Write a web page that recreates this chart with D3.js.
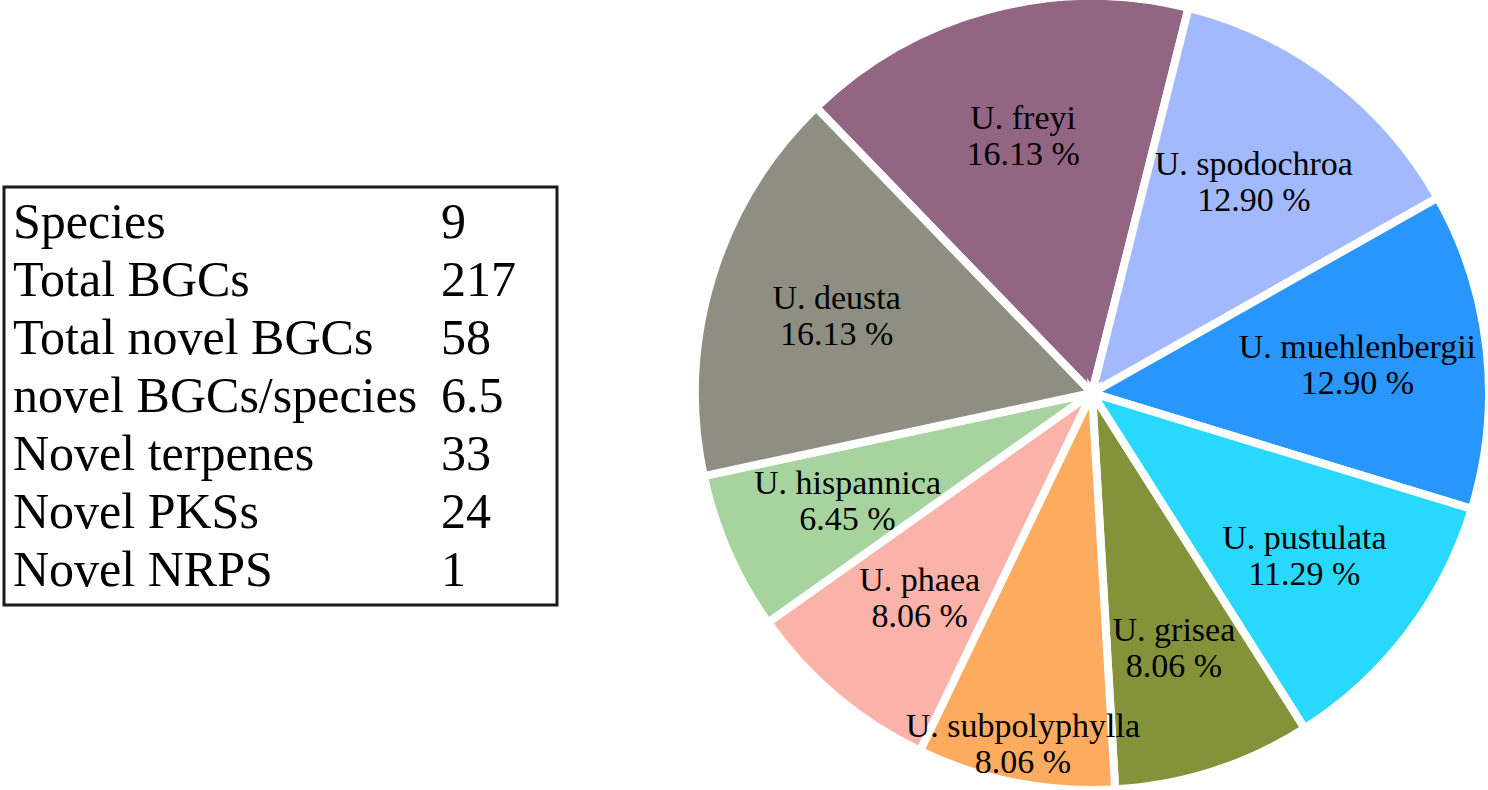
<!DOCTYPE html>
<html>
<head>
<meta charset="utf-8">
<script src="https://cdn.jsdelivr.net/npm/d3@7"></script>
<style>
  body { margin: 0; background: #fff; }
  svg { display: block; }
</style>
</head>
<body>
<svg id="chart"></svg>
<script>
// summary table
const statLabels = ["Species", "Total BGCs", "Total novel BGCs", "novel BGCs/species",
                    "Novel terpenes", "Novel PKSs", "Novel NRPS"];
const statValues = ["9", "217", "58", "6.5", "33", "24", "1"];

// pie slices, clockwise from the top-left
const species = ["U. freyi", "U. spodochroa", "U. muehlenbergii", "U. pustulata", "U. grisea",
                 "U. subpolyphylla", "U. phaea", "U. hispannica", "U. deusta"];
const shares = [16.13, 12.90, 12.90, 11.29, 8.06, 8.06, 8.06, 6.45, 16.13];
const sliceColors = ["#926583", "#a2b9fd", "#2896fd", "#29d9fd", "#849339",
                     "#fdab5f", "#fbb2a8", "#a7d49e", "#8e8e82"];

const W = 1488, H = 790;
const svg = d3.select("#chart").attr("width", W).attr("height", H);
const font = "'Liberation Serif', 'Times New Roman', serif";

// ---- table ----
svg.append("rect")
  .attr("x", 4).attr("y", 187)
  .attr("width", 553).attr("height", 418)
  .attr("fill", "none")
  .attr("stroke", "#1a1a1a")
  .attr("stroke-width", 3);

let rowY = d3.scalePoint().domain(statLabels).range([238, 586]);

statLabels.forEach((lab, i) => {
  svg.append("text")
    .attr("x", 13)
    .attr("y", rowY(lab))
    .style("font-family", font)
    .style("font-size", "50px")
    .style("fill", "#000")
    .text(lab);
  svg.append("text")
    .attr("x", 441)
    .attr("y", rowY(lab))
    .style("font-family", font)
    .style("font-size", "50px")
    .style("fill", "#000")
    .text(statValues[i]);
});

// ---- pie ----
const cx = 1092, cy = 393;
const rOuter = 397;
const start = -44 * Math.PI / 180;

let data = species.map((s, i) => ({name: s, share: shares[i]}));
let color = d3.scaleOrdinal().domain(species).range(sliceColors);

let pie = d3.pie()
  .sort(null)
  .value(d => d.share)
  .startAngle(start)
  .endAngle(start + 2 * Math.PI);

let arc = d3.arc().innerRadius(0).outerRadius(rOuter);

let g = svg.append("g").attr("transform", `translate(${cx},${cy})`);
let arcs = pie(data);

g.selectAll("path")
  .data(arcs)
  .join("path")
  .attr("d", arc)
  .attr("fill", d => color(d.data.name))
  .attr("stroke", "#fff")
  .attr("stroke-width", 8)
  .attr("stroke-linejoin", "miter");

// labels sit on a ring; subpolyphylla was pushed outward in the original
function labelRadius(d) {
  return d.data.name === "U. subpolyphylla" ? 357 : 267;
}
let fmt = d3.format(".2f");

arcs.forEach(d => {
  let a = (d.startAngle + d.endAngle) / 2;
  let r = labelRadius(d);
  let x = Math.sin(a) * r;
  let y = -Math.cos(a) * r;
  let t = g.append("text")
    .attr("text-anchor", "middle")
    .style("font-family", font)
    .style("font-size", "34px")
    .style("fill", "#000");
  t.append("tspan").attr("x", x).attr("y", y - 6).text(d.data.name);
  t.append("tspan").attr("x", x).attr("y", y + 30).text(fmt(d.data.share) + " %");
});
</script>
</body>
</html>
